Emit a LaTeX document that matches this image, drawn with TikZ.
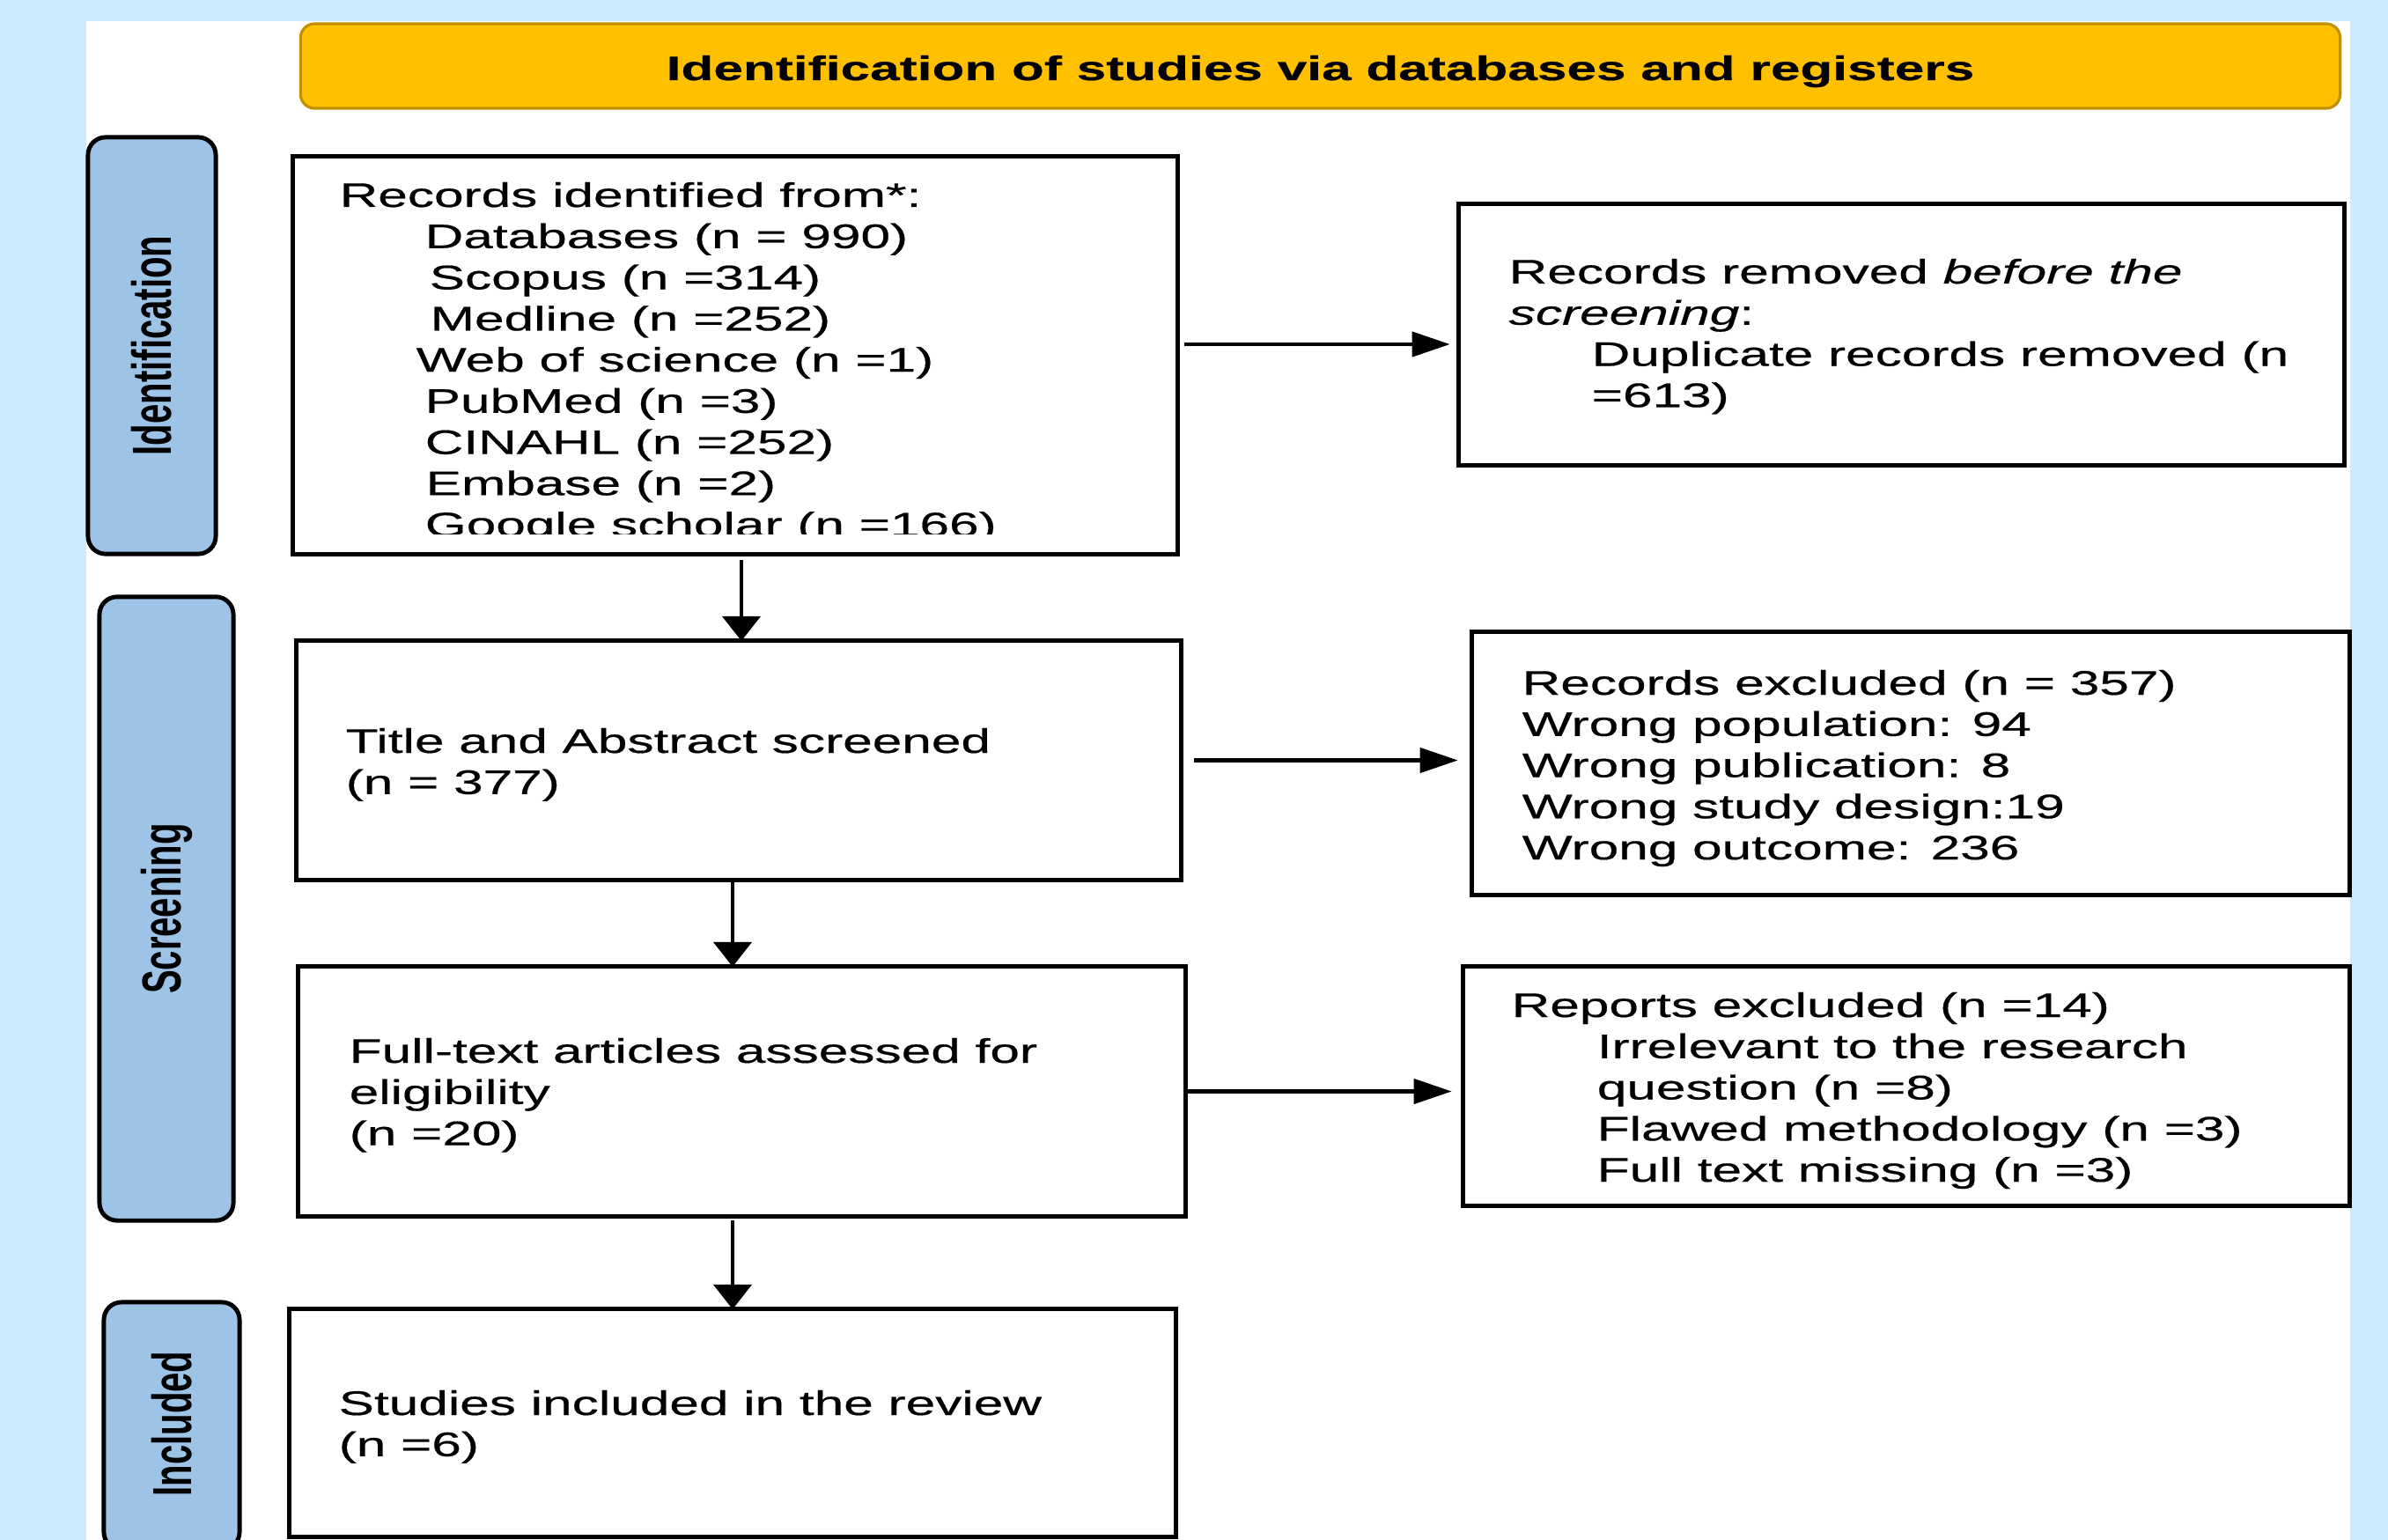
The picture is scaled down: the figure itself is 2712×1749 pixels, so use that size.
\documentclass[tikz,border=0pt]{standalone}
\usepackage{fontspec}
\usepackage{graphicx}
\setmainfont{Liberation Sans}[FakeStretch=1.56,FakeBold=0.5]
\newfontfamily\plainsans{Liberation Sans}
\usetikzlibrary{arrows.meta,calc}
\definecolor{bgblue}{RGB}{204,235,252}
\definecolor{banfill}{RGB}{255,192,0}
\definecolor{banline}{RGB}{191,145,0}
\definecolor{sidefill}{RGB}{157,195,230}
\begin{document}
\begin{tikzpicture}[x=0.01cm,y=-0.01cm,
  box/.style={draw=black, line width=1.4pt, rectangle, fill=white, inner sep=0pt, outer sep=0pt},
  side/.style={draw=black, line width=1.4pt, fill=sidefill, rounded corners=0.2cm, inner sep=0pt, outer sep=0pt},
  banner/.style={draw=banline, line width=0.9pt, fill=banfill, rounded corners=0.16cm, inner sep=0pt, outer sep=0pt},
  txt/.style={anchor=base west, inner sep=0pt, font=\fontsize{11pt}{13.3pt}\selectfont},
  lab/.style={rotate=90, inner sep=0pt, font=\plainsans\bfseries\fontsize{11.4pt}{13pt}\selectfont},
  harr/.style={line width=1.2pt, -{Triangle[length=0.43cm,width=0.28cm]}},
  varr/.style={line width=1.2pt, -{Triangle[length=0.28cm,width=0.43cm]}}
]
\useasboundingbox (0,0) rectangle (2712,1749);
\clip (0,0) rectangle (2712,1749);
\fill[bgblue] (0,0) rectangle (2712,1749);
\fill[white] (98,24) rectangle (2669,1760);

% banner
\node[banner, minimum width=23.15cm, minimum height=0.96cm] (ban) at (1499.5,75) {};
\node[anchor=base, inner sep=0pt, font=\bfseries\fontsize{11pt}{13pt}\selectfont] (bantxt) at (1499.5,91)
  {Identification of studies via databases and registers};

% side labels
\node[side, minimum width=1.45cm, minimum height=4.73cm] (idl) at (172.5,392.5) {};
\node[lab] (idt) at (idl.center) {\scalebox{1}[1.56]{Identification}};
\node[side, minimum width=1.52cm, minimum height=7.08cm] (scl) at (189,1032) {};
\node[lab] (sct) at (scl.center) {\scalebox{1}[1.56]{Screening}};
\node[side, minimum width=1.54cm, minimum height=2.81cm] (incl) at (195,1619.5) {};
\node[lab] (inct) at (195,1617) {\scalebox{1}[1.56]{Included}};

% boxes
\node[box, minimum width=10.04cm, minimum height=4.51cm] (rec) at (835,403.5) {};
\node[box, minimum width=10.05cm, minimum height=2.96cm] (dup) at (2159.5,380) {};
\node[box, minimum width=10.04cm, minimum height=2.71cm] (title) at (839,863.5) {};
\node[box, minimum width=9.96cm, minimum height=2.98cm] (excl) at (2170,867) {};
\node[box, minimum width=10.07cm, minimum height=2.83cm] (full) at (842.5,1239.5) {};
\node[box, minimum width=10.06cm, minimum height=2.71cm] (rep) at (2165,1233.5) {};
\node[box, minimum width=10.06cm, minimum height=2.58cm] (studies) at (832,1616) {};

% texts
\begin{scope}
\clip (333,178) rectangle (1337,606);
\node[txt] (rectxt) at (385,235) {\begin{tabular}[t]{@{}l@{}}
Records identified from*:\\
\hspace*{0.97cm}Databases (n = 990)\\
\hspace*{1.02cm}Scopus (n =314)\\
\hspace*{1.03cm}Medline (n =252)\\
\hspace*{0.87cm}Web of science (n =1)\\
\hspace*{0.97cm}PubMed (n =3)\\
\hspace*{0.97cm}CINAHL (n =252)\\
\hspace*{0.98cm}Embase (n =2)\\
\hspace*{0.97cm}Google scholar (n =166)
\end{tabular}};
\end{scope}

\node[txt] (duptxt) at (1713,322) {\begin{tabular}[t]{@{}l@{}}
Records removed \textit{before the}\\
\textit{screening}:\\
\hspace*{0.94cm}Duplicate records removed (n\\
\hspace*{0.94cm}=613)
\end{tabular}};

\node[txt] (titletxt) at (392,855) {\begin{tabular}[t]{@{}l@{}}
Title and Abstract screened\\
(n = 377)
\end{tabular}};

\node[txt] (excltxt) at (1728,789) {\begin{tabular}[t]{@{}l@{}}
Records excluded (n = 357)\\
Wrong population: 94\\
Wrong publication: 8\\
Wrong study design:19\\
Wrong outcome: 236
\end{tabular}};

\node[txt] (fulltxt) at (396,1207) {\begin{tabular}[t]{@{}l@{}}
Full-text articles assessed for\\
eligibility\\
(n =20)
\end{tabular}};

\node[txt] (reptxt) at (1716,1155) {\begin{tabular}[t]{@{}l@{}}
Reports excluded (n =14)\\
\hspace*{0.97cm}Irrelevant to the research\\
\hspace*{0.97cm}question (n =8)\\
\hspace*{0.97cm}Flawed methodology (n =3)\\
\hspace*{0.97cm}Full text missing (n =3)
\end{tabular}};

\node[txt] (studtxt) at (384,1607) {\begin{tabular}[t]{@{}l@{}}
Studies included in the review\\
(n =6)
\end{tabular}};

% connectors
\coordinate (a1) at (0,391);
\coordinate (a2) at (842,0);
\coordinate (a3) at (832,0);
\draw[harr, shorten <=0.08cm, shorten >=0.1cm] (rec.east |- a1) -- (dup.west |- a1);
\draw[varr, shorten <=0.07cm] (rec.south -| a2) -- (title.north -| a2);
\draw[harr, shorten <=0.15cm, shorten >=0.16cm] (title.east) -- (title.east -| excl.west);
\draw[varr] (title.south -| a3) -- (full.north -| a3);
\draw[harr, shorten >=0.13cm] (full.east) -- (full.east -| rep.west);
\draw[varr, shorten <=0.05cm] (full.south -| studies.north) -- (studies.north);
\end{tikzpicture}
\end{document}
